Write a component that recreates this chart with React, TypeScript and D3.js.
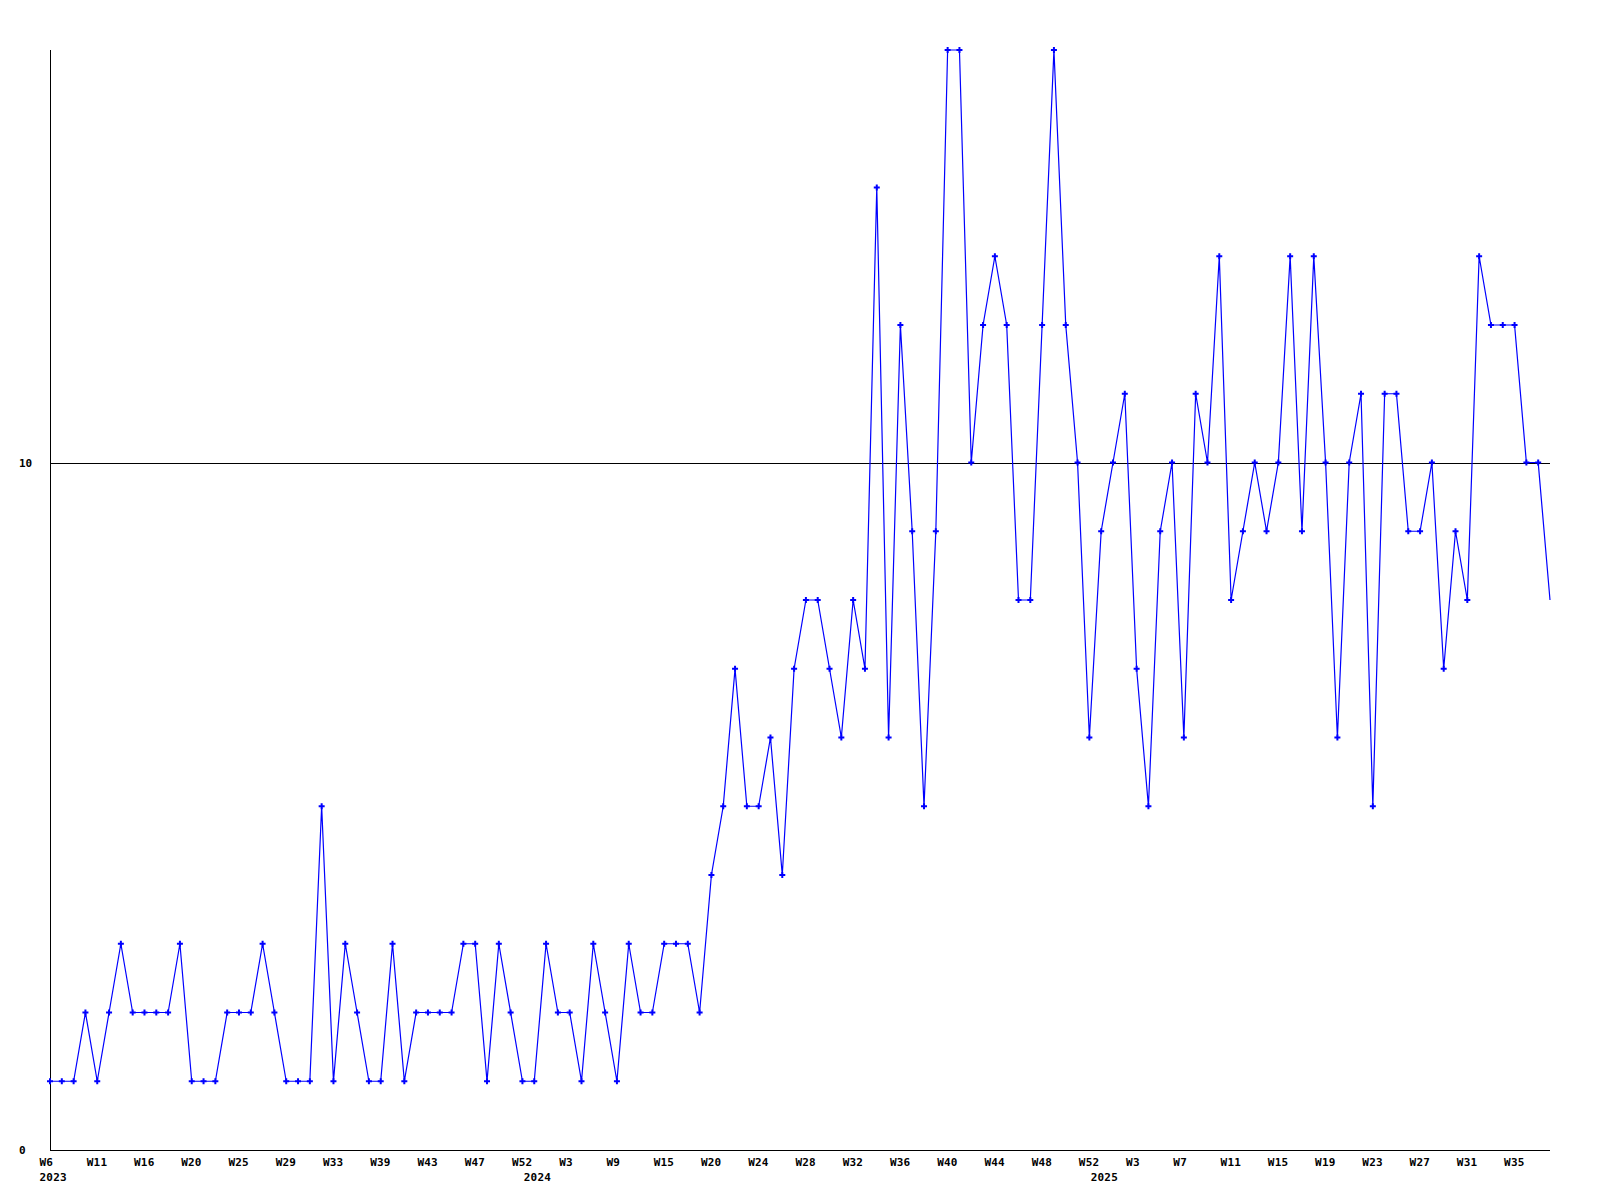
import React from "react";
import * as d3 from "d3";

const values: number[] = [
  1, 1, 1, 2, 1, 2, 3, 2, 2, 2, 2, 3, 1, 1, 1, 2, 2, 2, 3, 2,
  1, 1, 1, 5, 1, 3, 2, 1, 1, 3, 1, 2, 2, 2, 2, 3, 3, 1, 3, 2,
  1, 1, 3, 2, 2, 1, 3, 2, 1, 3, 2, 2, 3, 3, 3, 2, 4, 5, 7, 5,
  5, 6, 4, 7, 8, 8, 7, 6, 8, 7, 14, 6, 12, 9, 5, 9, 16, 16, 10, 12,
  13, 12, 8, 8, 12, 16, 12, 10, 6, 9, 10, 11, 7, 5, 9, 10, 6, 11, 10, 13,
  8, 9, 10, 9, 10, 13, 9, 13, 10, 6, 10, 11, 5, 11, 11, 9, 9, 10, 7, 9,
  8, 13, 12, 12, 12, 10, 10, 8,
];

const weekLabels: string[] = [
  "W6", "W11", "W16", "W20", "W25", "W29", "W33", "W39", "W43", "W47", "W52",
  "W3", "W9", "W15", "W20", "W24", "W28", "W32", "W36", "W40", "W44", "W48", "W52",
  "W3", "W7", "W11", "W15", "W19", "W23", "W27", "W31", "W35",
];
const labelStep = 4;

const yearNames: string[] = ["2023", "2024", "2025"];
const yearStartIdx: number[] = [0, 41, 89];

const yTickValues: number[] = [0, 10];
const yMax = 16;

const W = 1600;
const H = 1200;
const left = 50;
const right = 1550;
const top = 50;
const bottom = 1150;

export default function App() {
  const x = d3.scaleLinear().domain([0, values.length - 1]).range([left, right]);
  const y = d3.scaleLinear().domain([0, yMax]).range([bottom, top]);
  const line = d3
    .line<number>()
    .x((_, i) => x(i))
    .y((d) => y(d));
  const marker = d3.symbol().type(d3.symbolCross).size(20)() as string;
  const font = "'DejaVu Sans Mono', monospace";

  return (
    <svg
      width={W}
      height={H}
      style={{ position: "absolute", left: 0, top: 0, background: "#fff" }}
      xmlns="http://www.w3.org/2000/svg"
    >
      <rect x={0} y={0} width={W} height={H} fill="#fff" />
      {yTickValues
        .filter((v) => v > 0)
        .map((v) => (
          <line
            key={"g" + v}
            x1={left}
            x2={right}
            y1={Math.round(y(v)) + 0.5}
            y2={Math.round(y(v)) + 0.5}
            stroke="#000"
            strokeWidth={1}
            shapeRendering="crispEdges"
          />
        ))}
      <line x1={left + 0.5} x2={left + 0.5} y1={top} y2={bottom} stroke="#000" strokeWidth={1} shapeRendering="crispEdges" />
      <line x1={left} x2={right} y1={bottom + 0.5} y2={bottom + 0.5} stroke="#000" strokeWidth={1} shapeRendering="crispEdges" />

      {yTickValues.map((v) => (
        <text
          key={"yl" + v}
          x={19}
          y={y(v) + 4}
          fontFamily={font}
          fontWeight="bold"
          fontSize={11}
          fill="#000"
        >
          {v}
        </text>
      ))}

      {weekLabels.map((lab, k) => (
        <text
          key={"xl" + k}
          x={x(k * labelStep) - 10.5}
          y={1166}
          fontFamily={font}
          fontWeight="bold"
          fontSize={11}
          letterSpacing={0.2}
          fill="#000"
        >
          {lab}
        </text>
      ))}
      {yearNames.map((yr, k) => (
        <text
          key={"yr" + k}
          x={x(yearStartIdx[k]) - 10.5}
          y={1181}
          fontFamily={font}
          fontWeight="bold"
          fontSize={11}
          letterSpacing={0.2}
          fill="#000"
        >
          {yr}
        </text>
      ))}

      <path d={line(values) || ""} fill="none" stroke="#0000ff" strokeWidth={1.2} />
      {values.slice(0, values.length - 1).map((v, i) => (
        <path
          key={"m" + i}
          d={marker}
          transform={`translate(${x(i)},${y(v)})`}
          fill="#0000ff"
        />
      ))}
    </svg>
  );
}
